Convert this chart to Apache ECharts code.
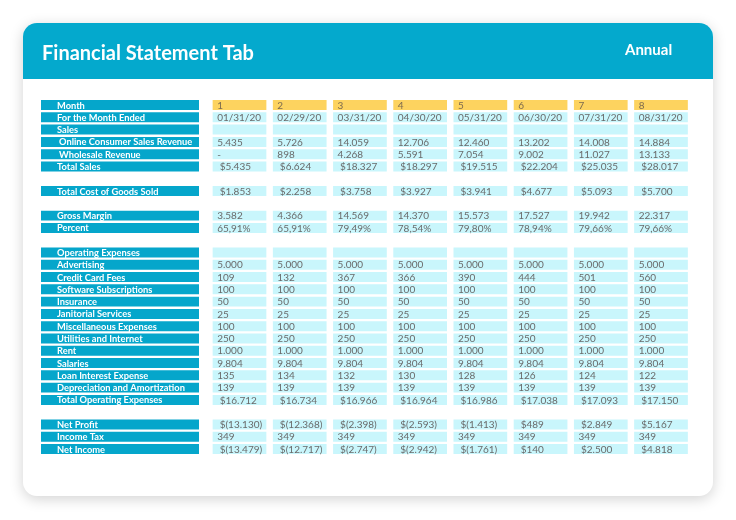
<!DOCTYPE html>
<html>
<head>
<meta charset="utf-8">
<script src="https://cdn.jsdelivr.net/npm/echarts@6/dist/echarts.min.js"></script>
<style>
  html, body { margin: 0; padding: 0; background: #fff; }
  #main { width: 736px; height: 520px; }
</style>
</head>
<body>
<div id="main"></div>
<script>
// column headers
const months = ['1', '2', '3', '4', '5', '6', '7', '8'];
const monthEnded = ['01/31/20', '02/29/20', '03/31/20', '04/30/20', '05/31/20', '06/30/20', '07/31/20', '08/31/20'];

// sales
const onlineSales = [5435, 5726, 14059, 12706, 12460, 13202, 14008, 14884];
const wholesale = [0, 898, 4268, 5591, 7054, 9002, 11027, 13133];
const totalSales = [5435, 6624, 18327, 18297, 19515, 22204, 25035, 28017];
const cogs = [1853, 2258, 3758, 3927, 3941, 4677, 5093, 5700];
const grossMargin = [3582, 4366, 14569, 14370, 15573, 17527, 19942, 22317];
const percent = [65.91, 65.91, 79.49, 78.54, 79.80, 78.94, 79.66, 79.66];

// operating expenses
const advertising = [5000, 5000, 5000, 5000, 5000, 5000, 5000, 5000];
const creditCard = [109, 132, 367, 366, 390, 444, 501, 560];
const software = [100, 100, 100, 100, 100, 100, 100, 100];
const insurance = [50, 50, 50, 50, 50, 50, 50, 50];
const janitorial = [25, 25, 25, 25, 25, 25, 25, 25];
const misc = [100, 100, 100, 100, 100, 100, 100, 100];
const utilities = [250, 250, 250, 250, 250, 250, 250, 250];
const rent = [1000, 1000, 1000, 1000, 1000, 1000, 1000, 1000];
const salaries = [9804, 9804, 9804, 9804, 9804, 9804, 9804, 9804];
const loanInterest = [135, 134, 132, 130, 128, 126, 124, 122];
const depreciation = [139, 139, 139, 139, 139, 139, 139, 139];
const totalOpex = [16712, 16734, 16966, 16964, 16986, 17038, 17093, 17150];

// bottom line
const netProfit = [-13130, -12368, -2398, -2593, -1413, 489, 2849, 5167];
const incomeTax = [349, 349, 349, 349, 349, 349, 349, 349];
const netIncome = [-13479, -12717, -2747, -2942, -1761, 140, 2500, 4818];

// [label, values, kind]  (null = spacer row)
const rows = [
  ['Month', months, 'month'],
  ['For the Month Ended', monthEnded, 'text'],
  ['Sales', null, 'empty'],
  [' Online Consumer Sales Revenue', onlineSales, 'num'],
  [' Wholesale Revenue', wholesale, 'num'],
  ['Total Sales', totalSales, 'cur'],
  null,
  ['Total Cost of Goods Sold', cogs, 'cur'],
  null,
  ['Gross Margin', grossMargin, 'num'],
  ['Percent', percent, 'pct'],
  null,
  ['Operating Expenses', null, 'empty'],
  ['Advertising', advertising, 'num'],
  ['Credit Card Fees', creditCard, 'num'],
  ['Software Subscriptions', software, 'num'],
  ['Insurance', insurance, 'num'],
  ['Janitorial Services', janitorial, 'num'],
  ['Miscellaneous Expenses', misc, 'num'],
  ['Utilities and Internet', utilities, 'num'],
  ['Rent', rent, 'num'],
  ['Salaries', salaries, 'num'],
  ['Loan Interest Expense', loanInterest, 'num'],
  ['Depreciation and Amortization', depreciation, 'num'],
  ['Total Operating Expenses', totalOpex, 'cur'],
  null,
  ['Net Profit', netProfit, 'cur'],
  ['Income Tax', incomeTax, 'num'],
  ['Net Income', netIncome, 'cur']
];

const dots = v => String(v).replace(/\B(?=(\d{3})+(?!\d))/g, '.');
function fmt(v, kind) {
  if (kind === 'num') return v === 0 ? '-' : dots(v);
  if (kind === 'cur') return v < 0 ? '$(' + dots(-v) + ')' : '$' + dots(v);
  if (kind === 'pct') return v.toFixed(2).replace('.', ',') + '%';
  return String(v);
}

const rowIdx = rows.map((r, i) => String(i));
const labelCells = [];
const valueCells = [];
rows.forEach((r, i) => {
  if (!r) return;
  labelCells.push({ value: [0, i], text: r[0].trim(), indent: r[0][0] === ' ' ? 18 : 16 });
  for (let c = 0; c < 8; c++) {
    valueCells.push({
      value: [c, i],
      text: r[1] ? fmt(r[1][c], r[2]) : '',
      kind: r[2]
    });
  }
});

const FONT = 'Lato';
const TEAL = '#05a6cb';
const CYAN = '#c9f6fc';
const YELLOW = '#fdd35f';

const gridTop = 98.9, gridH = 356.3;

const chart = echarts.init(document.getElementById('main'));
chart.setOption({
  animation: false,
  title: [
    { text: 'Financial Statement Tab', left: 37, top: 39,
      textStyle: { color: '#fff', fontFamily: FONT, fontSize: 20, fontWeight: 'bold' } },
    { text: 'Annual', left: 620, top: 38,
      textStyle: { color: '#fff', fontFamily: FONT, fontSize: 15, fontWeight: 'bold' } }
  ],
  graphic: [
    { type: 'rect', z: -2, shape: { x: 23, y: 23, width: 690, height: 473, r: 14 },
      style: { fill: '#fff', shadowBlur: 14, shadowColor: 'rgba(0,0,0,0.18)', shadowOffsetY: 3 } },
    { type: 'rect', z: -1, shape: { x: 23, y: 23, width: 690, height: 56, r: [14, 14, 0, 0] },
      style: { fill: '#04a9cd' } }
  ],
  grid: [
    { left: 41, width: 158, top: gridTop, height: gridH },
    { left: 209.4, width: 481.7, top: gridTop, height: gridH }
  ],
  xAxis: [
    { gridIndex: 0, type: 'category', data: ['label'], show: false },
    { gridIndex: 1, type: 'category', data: months, show: false }
  ],
  yAxis: [
    { gridIndex: 0, type: 'category', data: rowIdx, inverse: true, show: false },
    { gridIndex: 1, type: 'category', data: rowIdx, inverse: true, show: false }
  ],
  series: [
    {
      type: 'custom',
      xAxisIndex: 0, yAxisIndex: 0,
      data: labelCells,
      renderItem: (params, api) => {
        const cell = labelCells[params.dataIndex];
        const p = api.coord([api.value(0), api.value(1)]);
        const s = api.size([1, 1]);
        const h = s[1] - 2.3;
        const x0 = p[0] - s[0] / 2;
        return {
          type: 'group',
          children: [
            { type: 'rect', shape: { x: x0, y: p[1] - h / 2, width: s[0], height: h },
              style: { fill: TEAL } },
            { type: 'text', style: { x: x0 + cell.indent, y: p[1] + 0.5, text: cell.text,
                fill: '#fff', font: 'bold 9.3px ' + FONT, verticalAlign: 'middle' } }
          ]
        };
      }
    },
    {
      type: 'custom',
      xAxisIndex: 1, yAxisIndex: 1,
      data: valueCells,
      renderItem: (params, api) => {
        const cell = valueCells[params.dataIndex];
        const p = api.coord([api.value(0), api.value(1)]);
        const s = api.size([1, 1]);
        const w = s[0] - 6.5, h = s[1] - 2.3;
        const x0 = p[0] - w / 2;
        const isMonth = cell.kind === 'month';
        return {
          type: 'group',
          children: [
            { type: 'rect', shape: { x: x0, y: p[1] - h / 2, width: w, height: h },
              style: { fill: isMonth ? YELLOW : CYAN } },
            { type: 'text', style: { x: x0 + (cell.kind === 'cur' ? 7 : 4.5), y: p[1] + 0.5,
                text: cell.text, fill: isMonth ? '#7d6b4f' : '#6a6a6a',
                font: '10px ' + FONT, verticalAlign: 'middle' } }
          ]
        };
      }
    }
  ]
});
</script>
</body>
</html>
